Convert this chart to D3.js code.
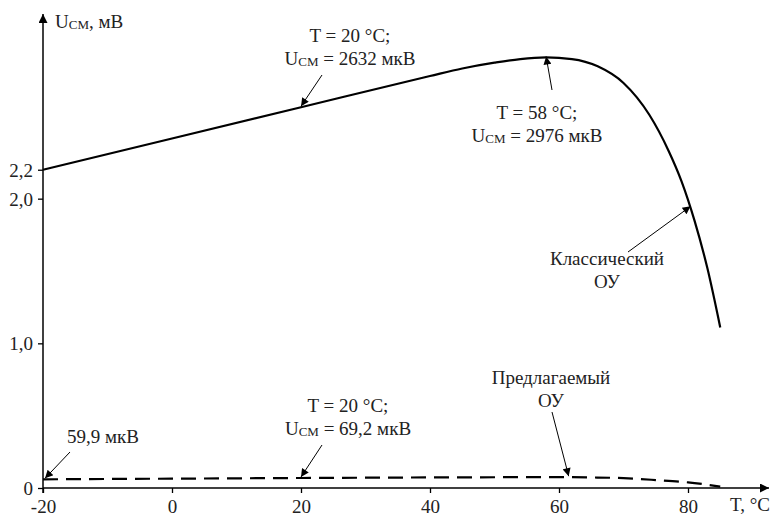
<!DOCTYPE html>
<html>
<head>
<meta charset="utf-8">
<script src="https://cdnjs.cloudflare.com/ajax/libs/d3/7.8.5/d3.min.js"></script>
<style>
  body { margin: 0; background: #fff; }
  svg text { font-family: "Liberation Serif", "LiberationSerif", "Times New Roman", Times, "DejaVu Serif", "Noto Serif", serif !important; fill: #222; }
</style>
</head>
<body>
<div id="chart"></div>
<script>
//Data
var temps      = [-20, 0, 20, 40, 45, 50, 54, 58, 62, 66, 70, 74, 77, 79, 81, 83, 85];
var classicMV  = [2.2, 2.416, 2.632, 2.848, 2.9, 2.94, 2.965, 2.976, 2.965, 2.915, 2.8, 2.58, 2.33, 2.12, 1.85, 1.52, 1.11];

var tempsNew   = [-20, 0, 20, 40, 60, 65, 70, 75, 80, 85];
var proposedUV = [59.9, 64.6, 69.2, 73, 75, 73, 68, 55, 39, 10];   // мкВ

var xTicks = [-20, 0, 20, 40, 60, 80];
var yTicks = [0, 1.0, 2.0, 2.2];

//Width and height
var w = 772;
var h = 517;

//Scales
var xScale = d3.scaleLinear().domain([-20, 80]).range([43, 688]);
var yScale = d3.scaleLinear().domain([0, 3]).range([488, 54]);

var svg = d3.select("#chart")
  .append("svg")
  .attr("width", w)
  .attr("height", h);

//Arrow markers
var defs = svg.append("defs");
defs.append("marker")
  .attr("id", "axisArrow")
  .attr("viewBox", "0 0 10 10")
  .attr("refX", 10).attr("refY", 5)
  .attr("markerWidth", 10).attr("markerHeight", 9)
  .attr("markerUnits", "userSpaceOnUse")
  .attr("orient", "auto")
  .append("path").attr("d", "M0,0L10,5L0,10Z").attr("fill", "#000");
defs.append("marker")
  .attr("id", "noteArrow")
  .attr("viewBox", "0 0 10 10")
  .attr("refX", 10).attr("refY", 5)
  .attr("markerWidth", 11).attr("markerHeight", 8)
  .attr("markerUnits", "userSpaceOnUse")
  .attr("orient", "auto")
  .append("path").attr("d", "M0,0L10,5L0,10Z").attr("fill", "#000");

//Axes
var xAxis = d3.axisBottom(xScale)
  .tickValues(xTicks)
  .tickSize(5)
  .tickPadding(6)
  .tickFormat(function(d){ return d; });

var yAxis = d3.axisLeft(yScale)
  .tickValues(yTicks)
  .tickSize(5)
  .tickPadding(5)
  .tickFormat(function(d){ return d === 0 ? "0" : d3.format(".1f")(d).replace(".", ","); });

var gx = svg.append("g")
  .attr("class", "axis x")
  .attr("transform", "translate(0," + yScale(0) + ")")
  .call(xAxis);

var gy = svg.append("g")
  .attr("class", "axis y")
  .attr("transform", "translate(" + xScale(-20) + ",0)")
  .call(yAxis);

svg.selectAll(".axis").attr("font-family", null);
svg.selectAll(".axis .domain").remove();
svg.selectAll(".axis line").attr("stroke", "#000").attr("stroke-width", 1.3);
svg.selectAll(".axis text")
  .style("font-size", "19px")
  .attr("fill", "#222");
gx.selectAll("text").attr("dy", "0.75em");
gy.selectAll("text").attr("dy", "0.35em");

//Axis lines with arrows
svg.append("line")
  .attr("x1", xScale(-20)).attr("y1", yScale(0) + 5)
  .attr("x2", xScale(-20)).attr("y2", 14)
  .attr("stroke", "#000").attr("stroke-width", 1.5)
  .attr("marker-end", "url(#axisArrow)");
svg.append("line")
  .attr("x1", xScale(-20)).attr("y1", yScale(0))
  .attr("x2", 769).attr("y2", yScale(0))
  .attr("stroke", "#000").attr("stroke-width", 1.5)
  .attr("marker-end", "url(#axisArrow)");

//Axis titles
var yTitle = svg.append("text").attr("x", 55).attr("y", 28).style("font-size", "19px");
yTitle.append("tspan").text("U");
yTitle.append("tspan").text("CM").style("font-size", "13px").attr("dy", 1);
yTitle.append("tspan").text(", мВ").attr("dy", -1);

svg.append("text")
  .attr("x", 730).attr("y", 511)
  .style("font-size", "19px")
  .text("T, °C");

//Lines
var line = d3.line()
  .x(function(d){ return xScale(d[0]); })
  .y(function(d){ return yScale(d[1]); })
  .curve(d3.curveMonotoneX);

var classic = temps.map(function(t, i){ return [t, classicMV[i]]; });
var proposed = tempsNew.map(function(t, i){ return [t, proposedUV[i] / 1000]; });

svg.append("path")
  .datum(classic)
  .attr("d", line)
  .attr("fill", "none")
  .attr("stroke", "#000")
  .attr("stroke-width", 2.2);

svg.append("path")
  .datum(proposed)
  .attr("d", line)
  .attr("fill", "none")
  .attr("stroke", "#000")
  .attr("stroke-width", 2.2)
  .attr("stroke-dasharray", "15,8");

//Annotations: tip in data units, tail and text in px
var notes = [
  { tip: [20, 2.632], tail: [322, 75], lines: [["T = 20 °C;"], ["U", "CM", " = 2632 мкВ"]], x: 350, y: 42 },
  { tip: [58, 2.976], tail: [552, 90], lines: [["T = 58 °C;"], ["U", "CM", " = 2976 мкВ"]], x: 537, y: 119 },
  { tip: [80.4, 1.94], tail: [628, 252], lines: [["Классический"], ["ОУ"]], x: 607, y: 265 },
  { tip: [61.5, 0.075], tail: [552, 412], lines: [["Предлагаемый"], ["ОУ"]], x: 551, y: 384 },
  { tip: [20, 0.0692], tail: [322, 445], lines: [["T = 20 °C;"], ["U", "CM", " = 69,2 мкВ"]], x: 348, y: 412 },
  { tip: [-20, 0.0599], tail: [70, 452], lines: [["59,9 мкВ"]], x: 103, y: 443 }
];

notes.forEach(function(n){
  svg.append("line")
    .attr("x1", n.tail[0]).attr("y1", n.tail[1])
    .attr("x2", xScale(n.tip[0]) + (n.tip[0] === -20 ? 2 : 0))
    .attr("y2", yScale(n.tip[1]) - 1)
    .attr("stroke", "#000").attr("stroke-width", 1)
    .attr("marker-end", "url(#noteArrow)");

  n.lines.forEach(function(parts, i){
    var t = svg.append("text")
      .attr("x", n.x).attr("y", n.y + i * 23)
      .attr("text-anchor", "middle")
      .style("font-size", "19px");
    if (parts.length === 3){
      t.append("tspan").text(parts[0]);
      t.append("tspan").text(parts[1]).style("font-size", "13px").attr("dy", 1);
      t.append("tspan").text(parts[2]).attr("dy", -1);
    } else {
      t.text(parts[0]);
    }
  });
});
</script>
</body>
</html>
